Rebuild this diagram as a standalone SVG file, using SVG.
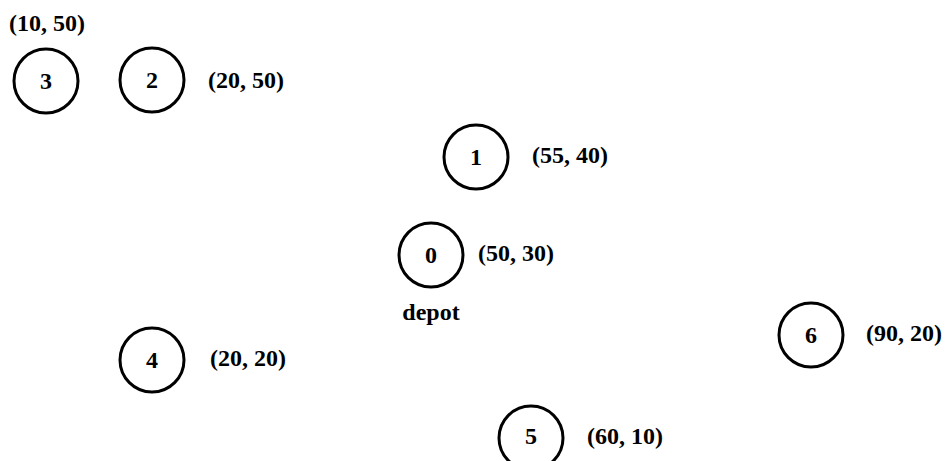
<svg xmlns="http://www.w3.org/2000/svg" width="946" height="461" viewBox="0 0 946 461">
  <style>
    .node circle { fill: #fff; stroke: #000; stroke-width: 3; }
    text { font-family: "Liberation Serif", "Times New Roman", serif; font-size: 24px; font-weight: bold; fill: #000; }
    .id { text-anchor: middle; dominant-baseline: central; }
    .coord { dominant-baseline: central; }
  </style>
  <rect width="946" height="461" fill="#fff"/>
  <g id="connectors"></g>
  <g id="node-3" class="node">
    <circle cx="46" cy="81" r="32"/>
    <text class="id" x="46" y="81">3</text>
    <text class="coord" x="47" y="23" text-anchor="middle">(10, 50)</text>
  </g>
  <g id="node-2" class="node">
    <circle cx="152" cy="80" r="32"/>
    <text class="id" x="152" y="80">2</text>
    <text class="coord" x="208" y="80">(20, 50)</text>
  </g>
  <g id="node-1" class="node">
    <circle cx="476" cy="157" r="32"/>
    <text class="id" x="476" y="157">1</text>
    <text class="coord" x="532" y="155">(55, 40)</text>
  </g>
  <g id="node-0" class="node">
    <circle cx="431" cy="255" r="32"/>
    <text class="id" x="431" y="255">0</text>
    <text class="coord" x="478" y="253">(50, 30)</text>
    <text class="id" x="431" y="312">depot</text>
  </g>
  <g id="node-4" class="node">
    <circle cx="152" cy="360" r="32"/>
    <text class="id" x="152" y="360">4</text>
    <text class="coord" x="210" y="358">(20, 20)</text>
  </g>
  <g id="node-6" class="node">
    <circle cx="811" cy="335" r="32"/>
    <text class="id" x="811" y="335">6</text>
    <text class="coord" x="866" y="333">(90, 20)</text>
  </g>
  <g id="node-5" class="node">
    <circle cx="531" cy="438" r="32"/>
    <text class="id" x="531" y="436">5</text>
    <text class="coord" x="587" y="436">(60, 10)</text>
  </g>
</svg>
